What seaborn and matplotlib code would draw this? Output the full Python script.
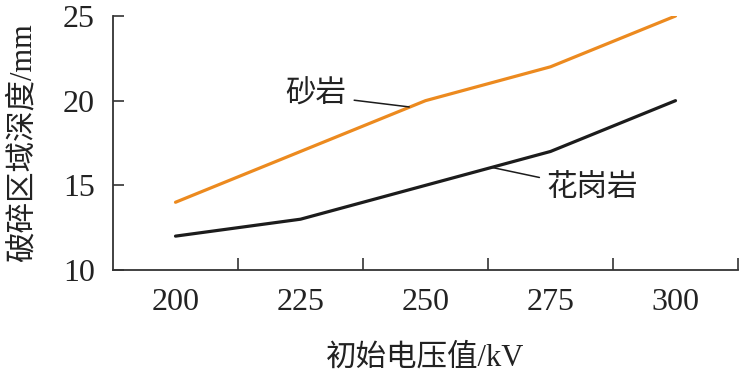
import matplotlib
matplotlib.use('Agg')
import matplotlib.pyplot as plt
import seaborn as sns
import numpy as np
import pandas as pd

# data
voltages = ['200', '225', '250', '275', '300']
sandstone = [14, 17, 20, 22, 25]
granite = [12, 13, 15, 17, 20]

sns.set_style('ticks')
plt.rcParams['font.family'] = ['Liberation Serif', 'Noto Sans CJK SC']
plt.rcParams['axes.unicode_minus'] = False

pos = np.arange(len(voltages))
df = pd.DataFrame({
    'x': np.concatenate([pos, pos]),
    'depth': sandstone + granite,
    'rock': ['砂岩'] * len(pos) + ['花岗岩'] * len(pos),
})

fig = plt.figure(figsize=(7.39, 3.73), dpi=100)
ax = fig.add_axes([113 / 739, 103 / 373, 625 / 739, 254 / 373])

sns.lineplot(data=df, x='x', y='depth', hue='rock',
             palette={'砂岩': '#EC8A1F', '花岗岩': '#1c1c1c'},
             linewidth=2.3, legend=False, ax=ax)

ax.set_xlim(-0.5, len(voltages) - 0.5)
ax.set_ylim(10, 25)
ax.set_yticks([10, 15, 20, 25])
ax.set_xticks(pos)
ax.set_xticklabels(voltages)
ax.set_xticks(pos + 0.5, minor=True)

for s in ['top', 'right']:
    ax.spines[s].set_visible(False)
for s in ['left', 'bottom']:
    ax.spines[s].set_color('#333333')
    ax.spines[s].set_linewidth(1.3)

ax.tick_params(axis='x', which='major', length=0, pad=13, labelsize=23, colors='#222222')
ax.tick_params(axis='x', which='minor', direction='in', length=9, width=1.2, color='#333333')
ax.tick_params(axis='y', which='major', direction='in', length=8, width=1.2,
               pad=13, labelsize=23, color='#333333', labelcolor='#222222')

ax.set_xlabel('初始电压值/kV', fontsize=22, labelpad=19, color='#222222')
ax.set_ylabel('破碎区域深度/mm', fontsize=22, labelpad=18, color='#222222')

# leader-line labels
ax.annotate('砂岩', xy=(1.87, 19.63), xytext=(1.37, 20.3),
            fontsize=22, ha='right', va='center', color='#222222',
            arrowprops=dict(arrowstyle='-', color='#1c1c1c', lw=1.1, shrinkA=3, shrinkB=0))
ax.annotate('花岗岩', xy=(2.53, 16.06), xytext=(2.97, 14.8),
            fontsize=22, ha='left', va='center', color='#222222',
            arrowprops=dict(arrowstyle='-', color='#1c1c1c', lw=1.1, shrinkA=3, shrinkB=0))

fig.savefig('out.png', dpi=100)
